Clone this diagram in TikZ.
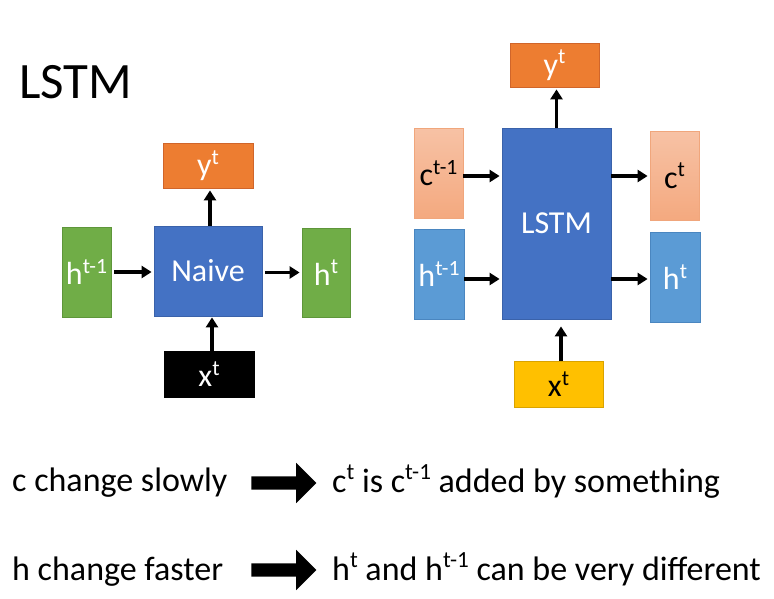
\documentclass[tikz,border=0pt]{standalone}
\usepackage{fontspec}
\setmainfont{Carlito}
\usetikzlibrary{arrows.meta,shapes.arrows}
\definecolor{orng}{HTML}{ED7D31}
\definecolor{orngd}{HTML}{D0652A}
\definecolor{blu}{HTML}{4472C4}
\definecolor{blud}{HTML}{3A62AA}
\definecolor{grn}{HTML}{70AD47}
\definecolor{grnd}{HTML}{5E963A}
\definecolor{lblu}{HTML}{5B9BD5}
\definecolor{lblud}{HTML}{4A86C0}
\definecolor{salt}{HTML}{F7C2A5}
\definecolor{salb}{HTML}{F4A97F}
\definecolor{sald}{HTML}{F0A67C}
\definecolor{yel}{HTML}{FFC000}
\definecolor{yeld}{HTML}{D9A300}
\newcommand\supa[1]{\raisebox{0.36em}{\scalebox{0.68}{#1}}}
\newcommand\lblfont{\fontsize{32}{38}\selectfont}
\newcommand\txtfont{\fontsize{34}{40}\selectfont}
\begin{document}
\begin{tikzpicture}[x=1pt,y=-1pt,
  box/.style={draw, line width=0.8pt, inner sep=0pt, font=\lblfont, text=white},
  conn/.style={-{Triangle[length=10pt,width=12pt]}, line width=3.4pt, black},
  bigarrow/.style={shape=single arrow, fill=black, draw=none, inner sep=6.5pt,
    single arrow head extend=13.5pt, minimum height=65pt},
  txt/.style={anchor=base west, inner sep=0pt, font=\txtfont}]
\useasboundingbox (0,0) rectangle (774,598);

% title
\node[anchor=base west, inner sep=0pt, font=\fontsize{51}{60}\selectfont] (title) at (19,98) {LSTM};

% naive cell
\node[box, fill=orng, draw=orngd, minimum width=90pt, minimum height=45pt] (yL) at (208,165.5) {y\supa{t}};
\node[box, fill=blu, draw=blud, minimum width=108pt, minimum height=90pt] (naive) at (208,271) {Naive};
\node[box, fill=grn, draw=grnd, minimum width=49pt, minimum height=90pt] (hL1) at (86.5,272) {h\supa{t-1}};
\node[box, fill=grn, draw=grnd, minimum width=48pt, minimum height=89pt] (hL2) at (326,272.5) {h\supa{t}};
\node[box, fill=black, draw=black, minimum width=90pt, minimum height=46pt] (xL) at (209,374) {x\supa{t}};

\draw[conn, shorten <=3pt, shorten >=2pt] (hL1.east) -- (hL1.east -| naive.west);
\draw[conn, shorten <=3pt, shorten >=2pt] (naive.east |- hL2.west) -- (hL2.west);
\draw[conn, shorten >=2pt] ([xshift=2pt]naive.north) -- ([xshift=2pt]naive.north |- yL.south);
\draw[conn, shorten >=1pt] ([xshift=3pt]xL.north) -- ([xshift=3pt]xL.north |- naive.south);

% LSTM cell
\node[box, fill=orng, draw=orngd, minimum width=89pt, minimum height=44pt] (yR) at (554.5,65) {y\supa{t}};
\node[box, fill=blu, draw=blud, minimum width=109pt, minimum height=191pt] (lstm) at (556.5,223.5) {LSTM};
\node[box, top color=salt, bottom color=salb, draw=sald, text=black, minimum width=49pt, minimum height=90pt] (c1) at (438.5,173) {c\supa{t-1}};
\node[box, fill=lblu, draw=lblud, minimum width=50pt, minimum height=90pt] (h1) at (439,274) {h\supa{t-1}};
\node[box, top color=salt, bottom color=salb, draw=sald, text=black, minimum width=49pt, minimum height=89pt] (c2) at (674.5,175.5) {c\supa{t}};
\node[box, fill=lblu, draw=lblud, minimum width=50pt, minimum height=90pt] (h2) at (675,277) {h\supa{t}};
\node[box, fill=yel, draw=yeld, text=black, minimum width=89pt, minimum height=46pt] (xR) at (558.5,384) {x\supa{t}};

\draw[conn, shorten >=2pt] ([yshift=-3pt]c1.east) -- ([yshift=-3pt]c1.east -| lstm.west);
\draw[conn, shorten >=2pt] ([yshift=-5pt]h1.east) -- ([yshift=-5pt]h1.east -| lstm.west);
\draw[conn, shorten >=2pt] ([yshift=-3pt]lstm.east |- c1.east) -- ([yshift=-3pt]c1.east -| c2.west);
\draw[conn, shorten >=2pt] ([yshift=-5pt]lstm.east |- h1.east) -- ([yshift=-5pt]h1.east -| h2.west);
\draw[conn, shorten >=2pt] (lstm.north) -- (lstm.north |- yR.south);
\draw[conn, shorten >=7pt] ([xshift=2.5pt]xR.north) -- ([xshift=2.5pt]xR.north |- lstm.south);

% bottom statements
\node[txt] (s1) at (12,491) {c change slowly};
\node[bigarrow] (a1) at (280.5,483) {};
\node[txt] (r1) at (332,492) {c\supa{t} is c\supa{t-1} added by something};
\node[txt] (s2) at (12,580) {h change faster};
\node[bigarrow] (a2) at (280.5,570) {};
\node[txt] (r2) at (332,580) {h\supa{t} and h\supa{t-1} can be very different};
\end{tikzpicture}
\end{document}
